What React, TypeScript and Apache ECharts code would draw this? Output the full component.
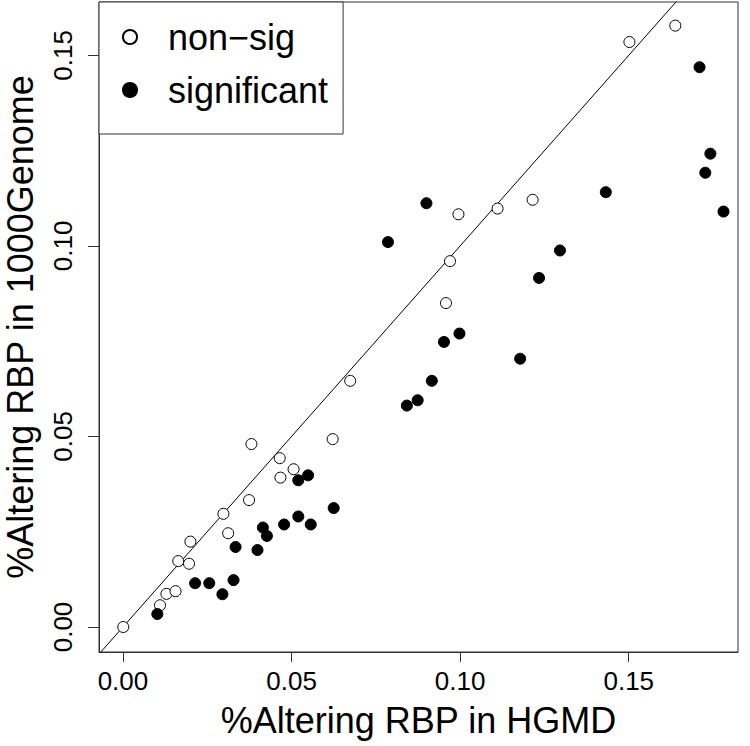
import React, { useEffect, useRef } from "react";
import * as echarts from "echarts";

const xTicks = [0, 0.05, 0.1, 0.15];
const yTicks = [0, 0.05, 0.1, 0.15];

const nonSig: number[][] = [
  [0.0001, 0.0], [0.011, 0.0057], [0.0129, 0.0087], [0.0156, 0.0094],
  [0.0164, 0.0173], [0.0196, 0.0166], [0.02, 0.0224], [0.0298, 0.0297],
  [0.0312, 0.0246], [0.0374, 0.0333], [0.0381, 0.048], [0.0465, 0.0443],
  [0.0467, 0.0392], [0.0506, 0.0414], [0.0622, 0.0493], [0.0674, 0.0646],
  [0.0958, 0.085], [0.097, 0.096], [0.0995, 0.1083], [0.1111, 0.1098],
  [0.1215, 0.1121], [0.1502, 0.1535], [0.1638, 0.1578],
];

const significant: number[][] = [
  [0.0102, 0.0034], [0.0214, 0.0115], [0.0256, 0.0115], [0.0295, 0.0086],
  [0.0328, 0.0123], [0.0334, 0.021], [0.0399, 0.0202], [0.0415, 0.0261],
  [0.0427, 0.0239], [0.0478, 0.0269], [0.052, 0.029], [0.052, 0.0385],
  [0.0549, 0.0398], [0.0557, 0.0269], [0.0625, 0.0312], [0.0786, 0.101],
  [0.0842, 0.0581], [0.0874, 0.0595], [0.09, 0.1112], [0.0916, 0.0646],
  [0.0952, 0.0748], [0.0998, 0.077], [0.1178, 0.0704], [0.1234, 0.0916],
  [0.1296, 0.0988], [0.1432, 0.1141], [0.171, 0.1469], [0.1727, 0.1192],
  [0.1742, 0.1242], [0.1781, 0.109],
];

const identityLine: number[][] = [[-0.05, -0.05], [0.25, 0.25]];

const FONT = '"Liberation Sans", Arial, Helvetica, sans-serif';

export default function App() {
  const ref = useRef<HTMLDivElement>(null);
  useEffect(() => {
    if (!ref.current) return;
    const chart = echarts.init(ref.current, undefined, { renderer: "svg" });
    chart.setOption({
      animation: false,
      backgroundColor: "#ffffff",
      textStyle: { fontFamily: FONT, color: "#000" },
      grid: {
        left: 99,
        top: 2,
        right: 12,
        bottom: 94,
        containLabel: false,
        outerBoundsMode: "none",
        show: true,
        borderColor: "#333",
        borderWidth: 1,
        backgroundColor: "transparent",
      },
      legend: {
        left: 99,
        top: 2,
        orient: "vertical",
        backgroundColor: "#fff",
        borderColor: "#333",
        borderWidth: 1,
        borderRadius: 0,
        padding: [17, 15, 26, 23],
        itemGap: 17,
        itemWidth: 14,
        itemHeight: 14,
        icon: "circle",
        data: ["non\u2212sig", "significant"],
        formatter: (name: string) => "{a|" + name + "}",
        textStyle: {
          rich: {
            a: {
              fontSize: 36,
              fontFamily: FONT,
              color: "#000",
              lineHeight: 40,
              padding: [0, 0, 0, 26],
            },
          },
        },
      },
      xAxis: {
        type: "value",
        min: -0.0071,
        max: 0.1824,
        name: "%Altering RBP in HGMD",
        nameLocation: "middle",
        nameGap: 50,
        nameTextStyle: { fontSize: 36, color: "#000", fontFamily: FONT },
        splitLine: { show: false },
        axisLine: { show: true, onZero: false, lineStyle: { color: "#333", width: 1 } },
        axisTick: {
          show: true,
          length: 10,
          lineStyle: { color: "#333" },
          customValues: xTicks,
        },
        axisLabel: {
          fontSize: 26,
          color: "#000",
          margin: 16,
          customValues: xTicks,
          formatter: (v: number) => v.toFixed(2),
        },
      },
      yAxis: {
        type: "value",
        min: -0.00656,
        max: 0.164,
        name: "%Altering RBP in 1000Genome",
        nameLocation: "middle",
        nameGap: 61,
        nameRotate: 90,
        nameTextStyle: { fontSize: 36, color: "#000", fontFamily: FONT },
        splitLine: { show: false },
        axisLine: { show: true, onZero: false, lineStyle: { color: "#333", width: 1 } },
        axisTick: {
          show: true,
          length: 11,
          lineStyle: { color: "#333" },
          customValues: yTicks,
        },
        axisLabel: {
          fontSize: 26,
          color: "#000",
          margin: 23,
          rotate: 90,
          customValues: yTicks,
          formatter: (v: number) => v.toFixed(2),
        },
      },
      series: [
        {
          name: "identity",
          type: "line",
          data: identityLine,
          symbol: "none",
          clip: true,
          lineStyle: { color: "#000", width: 1 },
          silent: true,
          z: 1,
        },
        {
          name: "non\u2212sig",
          type: "scatter",
          data: nonSig,
          symbol: "circle",
          symbolSize: 11,
          itemStyle: { color: "#fff", borderColor: "#000", borderWidth: 1, opacity: 1 },
          z: 3,
        },
        {
          name: "significant",
          type: "scatter",
          data: significant,
          symbol: "circle",
          symbolSize: 11,
          itemStyle: { color: "#000", borderColor: "#000", borderWidth: 1, opacity: 1 },
          z: 3,
        },
      ],
    });
    return () => chart.dispose();
  }, []);
  return (
    <div
      ref={ref}
      style={{ position: "fixed", left: 0, top: 0, width: 750, height: 746, background: "#fff" }}
    />
  );
}
